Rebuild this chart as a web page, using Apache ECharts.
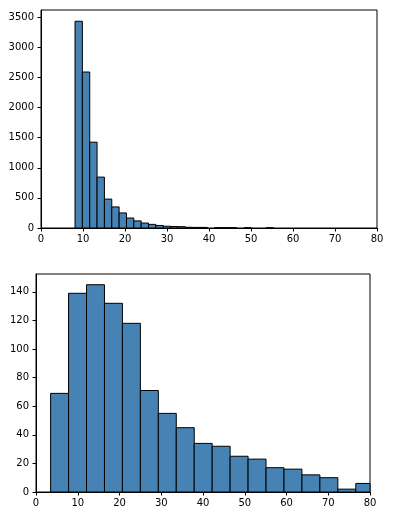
<!DOCTYPE html>
<html>
<head>
<meta charset="utf-8">
<script src="https://cdn.jsdelivr.net/npm/echarts@6/dist/echarts.min.js"></script>
<style>
  html, body { margin: 0; padding: 0; background: #fff; }
  #chart { width: 397px; height: 520px; }
</style>
</head>
<body>
<div id="chart"></div>
<script>
// top histogram: bins of equal width starting at topStart
var topStart = 8.1
var topWidth = 1.75
var topCounts = [3433, 2590, 1425, 845, 480, 350, 250, 166, 118, 82, 60, 42, 30, 25, 22,
  12, 10, 10, 0, 5, 6, 4, 0, 4, 0, 0, 3]
var topYTicks = [0, 500, 1000, 1500, 2000, 2500, 3000, 3500]

// bottom histogram
var botStart = 3.5
var botWidth = 4.3
var botCounts = [69, 139, 145, 132, 118, 71, 55, 45, 34, 32, 25, 23, 17, 16, 12, 10, 2, 6]
var botYTicks = [0, 20, 40, 60, 80, 100, 120, 140]

var xTicks = [0, 10, 20, 30, 40, 50, 60, 70, 80]

function toBins(start, width, counts) {
  return counts.map(function (c, i) {
    return [start + i * width, start + (i + 1) * width, c]
  })
}

function renderBar(params, api) {
  if (!api.value(2)) return
  var p0 = api.coord([api.value(0), api.value(2)])
  var p1 = api.coord([api.value(1), 0])
  var rect = echarts.graphic.clipRectByRect({
    x: p0[0], y: p0[1], width: p1[0] - p0[0], height: p1[1] - p0[1]
  }, {
    x: params.coordSys.x, y: params.coordSys.y,
    width: params.coordSys.width, height: params.coordSys.height
  })
  if (!rect) return
  return {
    type: 'rect',
    shape: rect,
    style: { fill: '#4682b4', stroke: '#000', lineWidth: 1 }
  }
}

var txt = { color: '#000', fontFamily: 'DejaVu Sans', fontSize: 10,
  formatter: function (v) { return String(v) } }

function xAxis(idx) {
  return {
    type: 'value', gridIndex: idx, min: 0, max: 80, interval: 10,
    splitLine: { show: false },
    axisLine: { show: true, onZero: false, lineStyle: { color: '#000', width: 1 } },
    axisTick: { show: true, length: 3.5, lineStyle: { color: '#000' }, customValues: xTicks },
    axisLabel: Object.assign({ margin: 6, customValues: xTicks }, txt)
  }
}

function yAxis(idx, max, ticks) {
  return {
    type: 'value', gridIndex: idx, min: 0, max: max,
    splitLine: { show: false },
    axisLine: { show: true, lineStyle: { color: '#000', width: 1 } },
    axisTick: { show: true, length: 3.5, lineStyle: { color: '#000' }, customValues: ticks },
    axisLabel: Object.assign({ margin: 7, customValues: ticks }, txt)
  }
}

var chart = echarts.init(document.getElementById('chart'))
chart.setOption({
  animation: false,
  backgroundColor: '#fff',
  grid: [
    { left: 41, right: 20, top: 10, bottom: 292, show: true, borderColor: '#000', borderWidth: 1 },
    { left: 36, right: 27, top: 274, bottom: 28, show: true, borderColor: '#000', borderWidth: 1 }
  ],
  xAxis: [xAxis(0), xAxis(1)],
  yAxis: [yAxis(0, 3620, topYTicks), yAxis(1, 152.5, botYTicks)],
  series: [
    {
      type: 'custom', xAxisIndex: 0, yAxisIndex: 0,
      renderItem: renderBar,
      encode: { x: [0, 1], y: 2 },
      data: toBins(topStart, topWidth, topCounts)
    },
    {
      type: 'custom', xAxisIndex: 1, yAxisIndex: 1,
      renderItem: renderBar,
      encode: { x: [0, 1], y: 2 },
      data: toBins(botStart, botWidth, botCounts)
    }
  ]
})
</script>
</body>
</html>
